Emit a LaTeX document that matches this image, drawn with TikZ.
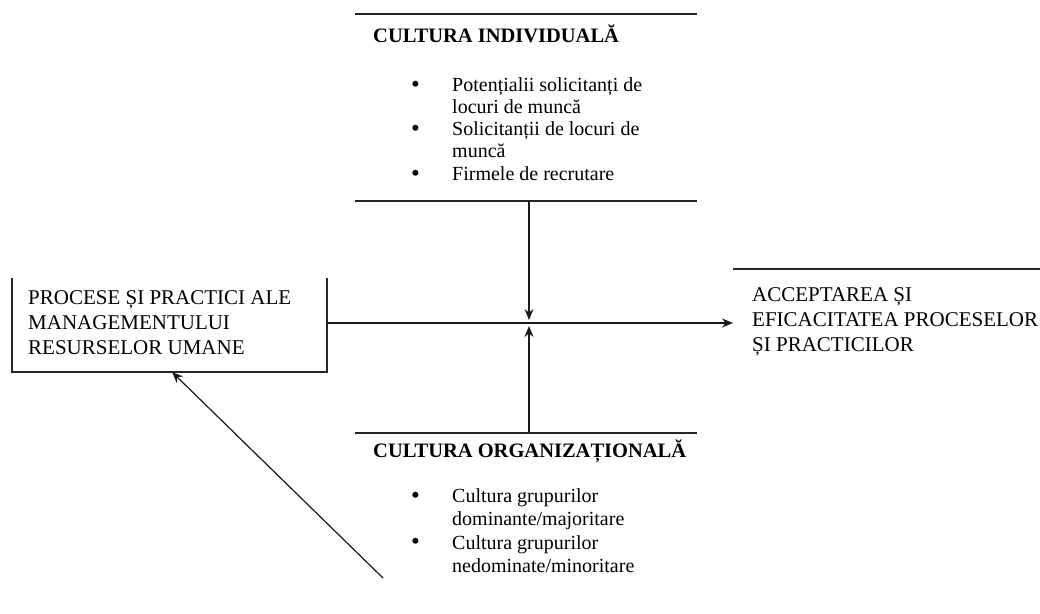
\documentclass[tikz,border=0pt]{standalone}
\usepackage{fontspec}
\setmainfont{Liberation Serif}
\usetikzlibrary{arrows.meta}

\tikzset{
    rule/.style={line width=1.5pt, black!85},
    link/.style={line width=1.2pt, black!90, -{Stealth[length=11pt,width=9pt]}},
    frame/.style={inner sep=0pt, outer sep=0pt},
    headtxt/.style={anchor=base west, inner sep=0pt, font=\fontsize{20.5}{24}\selectfont\bfseries},
    itemtxt/.style={anchor=base west, inner sep=0pt, align=left, font=\fontsize{20}{22}\selectfont},
    boxtxt/.style={anchor=base west, inner sep=0pt, align=left, font=\fontsize{21}{25}\selectfont},
    dot/.style={anchor=base west, inner sep=0pt, font=\fontsize{25}{22}\selectfont}
}

\begin{document}
\begin{tikzpicture}[x=1pt, y=-1pt]

        \useasboundingbox (0,0) rectangle (1040,613);

        % frames
        \node[frame, minimum width=342pt, minimum height=187pt] (indiv) at (526,107.5) {};
        \draw[rule] (indiv.north west) -- (indiv.north east);
        \draw[rule] (indiv.south west) -- (indiv.south east);

        \node[frame, minimum width=342pt, minimum height=160pt] (org) at (526,513) {};
        \draw[rule] (org.north west) -- (org.north east);

        \node[frame, minimum width=315pt, minimum height=94pt] (hrm) at (169.5,325) {};
        \draw[rule] (hrm.north west) -- (hrm.south west) -- (hrm.south east) -- (hrm.north east);

        \node[frame, minimum width=307pt, minimum height=100pt] (accept) at (886.5,319) {};
        \draw[rule] (accept.north west) -- (accept.north east);

        % texts (multi-line nodes sit on their last baseline)
        \node[headtxt] (indivtitle) at (373,42) {CULTURA INDIVIDUALĂ};
        \node[dot] (dot1) at (411,92) {\textbullet};
        \node[itemtxt] (item1) at (452,113) {Potențialii solicitanți de\\locuri de muncă};
        \node[dot] (dot2) at (411,136) {\textbullet};
        \node[itemtxt] (item2) at (452,157) {Solicitanții de locuri de\\muncă};
        \node[dot] (dot3) at (411,181) {\textbullet};
        \node[itemtxt] (item3) at (452,180) {Firmele de recrutare};

        \node[headtxt] (orgtitle) at (373,457) {CULTURA ORGANIZAȚIONALĂ};
        \node[dot] (dot4) at (411,503) {\textbullet};
        \node[itemtxt, font=\fontsize{20}{23}\selectfont] (item4) at (452,525) {Cultura grupurilor\\dominante/majoritare};
        \node[dot] (dot5) at (411,549) {\textbullet};
        \node[itemtxt, font=\fontsize{20}{23}\selectfont] (item5) at (452,572) {Cultura grupurilor\\nedominate/minoritare};

        \node[boxtxt] (hrmtxt) at (28,354) {PROCESE ȘI PRACTICI ALE\\MANAGEMENTULUI\\RESURSELOR UMANE};
        \node[boxtxt] (accepttxt) at (752,351) {ACCEPTAREA ȘI\\EFICACITATEA PROCESELOR\\ȘI PRACTICILOR};

        % #######################################

        \coordinate (mid) at (529,323);
        \coordinate (src) at (383,578);

        \draw[link] (hrm.east |- mid) -- (accept.west |- mid);
        \draw[link] (indiv.south -| mid) -- ([yshift=3pt]mid);
        \draw[link] (org.north -| mid) -- ([yshift=-3pt]mid);
        \draw[link] (src) -- ([xshift=160pt]hrm.south west);

\end{tikzpicture}
\end{document}
